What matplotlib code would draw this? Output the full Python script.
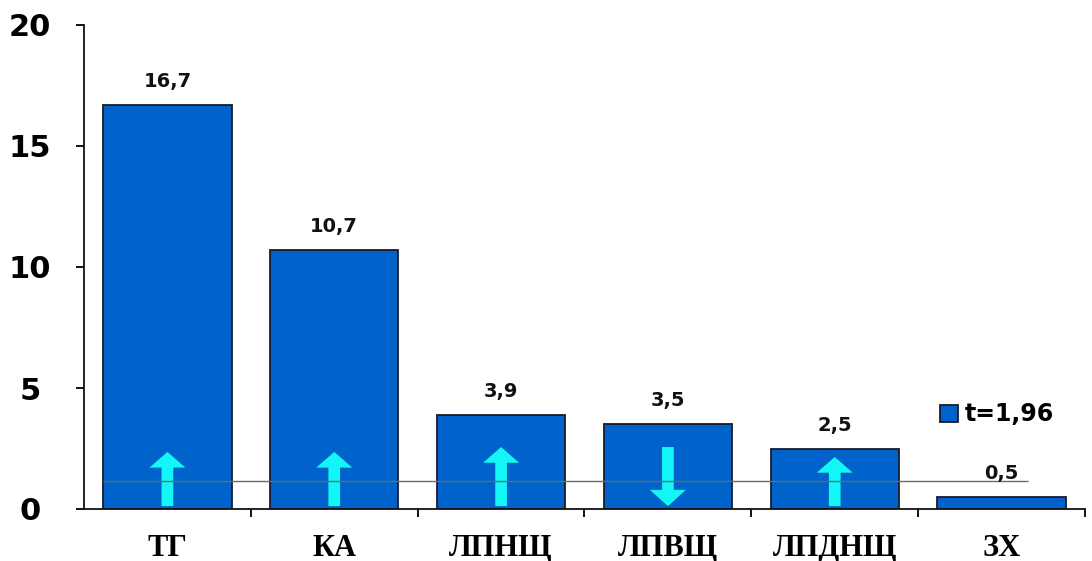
import matplotlib
matplotlib.use("Agg")
import matplotlib.pyplot as plt
from matplotlib.patches import Polygon
import numpy as np

categories = ["ТГ", "КА", "ЛПНЩ", "ЛПВЩ", "ЛПДНЩ", "ЗХ"]
values = [16.7, 10.7, 3.9, 3.5, 2.5, 0.5]
value_labels = ["16,7", "10,7", "3,9", "3,5", "2,5", "0,5"]
arrow_dirs = ["up", "up", "up", "down", "up", None]
threshold = 1.15
legend_label = "t=1,96"
yticks = [0, 5, 10, 15, 20]

BAR_COLOR = "#0063CC"
ARROW_COLOR = "#14F6F6"

fig = plt.figure(figsize=(10.92, 5.61), dpi=100)
ax = fig.add_axes([84/1092, 1 - 509/561, (1085-84)/1092, (509-25)/561])

x = np.arange(len(categories))
bw = 0.77
bars = ax.bar(x, values, width=bw, color=BAR_COLOR, edgecolor="#1a1a2a",
              linewidth=1.3, zorder=2, label=legend_label)

for xi, v, lab in zip(x, values, value_labels):
    ax.annotate(lab, (xi, v), xytext=(0, 10), textcoords="offset points",
                ha="center", va="bottom", fontsize=14, fontweight="bold",
                color="#111111", zorder=5)

# arrows (style geometry)
arrow_tops = [2.36, 2.36, 2.56, 2.56, 2.15, 0]
head_hw, shaft_hw, head_len, base = 0.108, 0.035, 0.65, 0.12
for xi, d, top in zip(x, arrow_dirs, arrow_tops):
    if d is None:
        continue
    if d == "up":
        pts = [(xi - shaft_hw, base), (xi + shaft_hw, base),
               (xi + shaft_hw, top - head_len), (xi + head_hw, top - head_len),
               (xi, top), (xi - head_hw, top - head_len),
               (xi - shaft_hw, top - head_len)]
    else:
        tip = base
        pts = [(xi - shaft_hw, top), (xi + shaft_hw, top),
               (xi + shaft_hw, tip + head_len + 0.02), (xi + head_hw, tip + head_len + 0.02),
               (xi, tip), (xi - head_hw, tip + head_len + 0.02),
               (xi - shaft_hw, tip + head_len + 0.02)]
    ax.add_patch(Polygon(pts, closed=True, facecolor=ARROW_COLOR,
                         edgecolor="none", zorder=3))

ax.hlines(threshold, -bw/2, 5.16, color="#6a6a6a", linewidth=1.0, zorder=4)

ax.set_xlim(-0.5, len(categories) - 0.5)
ax.set_ylim(0, 20)
ax.set_yticks(yticks)
ax.set_yticklabels([str(t) for t in yticks], fontsize=22, fontweight="bold")
ax.tick_params(axis="y", length=6, width=1.3, direction="out", pad=33)
for lbl in ax.get_yticklabels():
    lbl.set_horizontalalignment("center")

ax.set_xticks(x)
ax.set_xticklabels(categories, fontsize=22, fontweight="bold",
                   family="Liberation Serif")
ax.tick_params(axis="x", which="major", length=0, pad=18)
ax.set_xticks(np.arange(0.5, len(categories), 1.0), minor=True)
ax.tick_params(axis="x", which="minor", length=6, width=1.3, direction="out")

for s in ["top", "right"]:
    ax.spines[s].set_visible(False)
for s in ["left", "bottom"]:
    ax.spines[s].set_linewidth(1.3)
    ax.spines[s].set_color("#111111")

leg = ax.legend(handles=[bars], labels=[legend_label], loc="upper left",
                bbox_to_anchor=((931-84)/1001, 1 - (393-25)/484),
                frameon=False, prop={"weight": "bold", "size": 17},
                handlelength=0.75, handleheight=0.75, handletextpad=0.3,
                borderaxespad=0)

fig.savefig("out.png", dpi=100, facecolor="white")
